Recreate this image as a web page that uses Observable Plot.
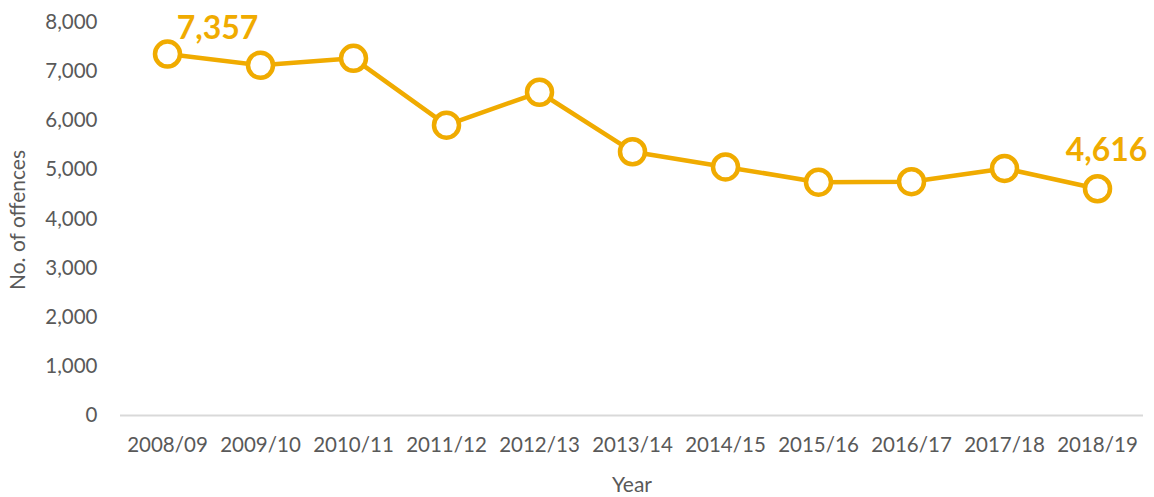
<!DOCTYPE html>
<html>
<head>
<meta charset="utf-8">
<script src="https://cdn.jsdelivr.net/npm/d3@7"></script>
<script src="https://cdn.jsdelivr.net/npm/@observablehq/plot@0.6"></script>
<style>
  html, body { margin: 0; padding: 0; background: #fff; }
  svg { display: block; }
</style>
</head>
<body>
<div id="chart"></div>
<script>
const years = ["2008/09","2009/10","2010/11","2011/12","2012/13","2013/14","2014/15","2015/16","2016/17","2017/18","2018/19"];
const offences = [7357, 7130, 7270, 5910, 6580, 5370, 5060, 4750, 4760, 5030, 4616];
const yTicks = [0,1000,2000,3000,4000,5000,6000,7000,8000];

const data = years.map((y, i) => ({year: y, value: offences[i]}));
const orange = "#F0AB00";
const fmt = d3.format(",");
const font = "Lato, 'Open Sans', sans-serif";

const chart = Plot.plot({
  width: 1154,
  height: 497,
  marginLeft: 120,
  marginRight: 11,
  marginTop: 22,
  marginBottom: 82,
  style: {fontFamily: font, background: "#fff"},
  x: {type: "point", domain: years, padding: 0.5, label: null},
  y: {domain: [0, 8000], label: null},
  marks: [
    Plot.ruleY([0], {stroke: "#d9d9d9", strokeWidth: 2}),
    Plot.axisY({ticks: yTicks, tickSize: 0, tickPadding: 23, tickFormat: fmt, fontSize: 20.5, fill: "#595959", label: null}),
    Plot.axisX({tickSize: 0, tickPadding: 22, fontSize: 20.5, fill: "#595959", label: null}),
    Plot.line(data, {x: "year", y: "value", stroke: orange, strokeWidth: 4.5}),
    Plot.dot(data, {x: "year", y: "value", r: 12.5, fill: "#fff", stroke: orange, strokeWidth: 4.5}),
    Plot.text([data[0]], {x: "year", y: "value", text: d => fmt(d.value), dx: 50, dy: -25, fill: orange, fontSize: 32, fontWeight: "bold"}),
    Plot.text([data[data.length - 1]], {x: "year", y: "value", text: d => fmt(d.value), dx: 9, dy: -38, fill: orange, fontSize: 32, fontWeight: "bold"}),
    Plot.text(["No. of offences"], {frameAnchor: "left", textAnchor: "middle", lineAnchor: "middle", dx: -102, dy: 1, rotate: -90, fontSize: 21, fill: "#595959"}),
    Plot.text(["Year"], {frameAnchor: "bottom", textAnchor: "middle", lineAnchor: "middle", dy: 70, fontSize: 21, fill: "#595959"})
  ]
});
document.getElementById("chart").appendChild(chart);
</script>
</body>
</html>
